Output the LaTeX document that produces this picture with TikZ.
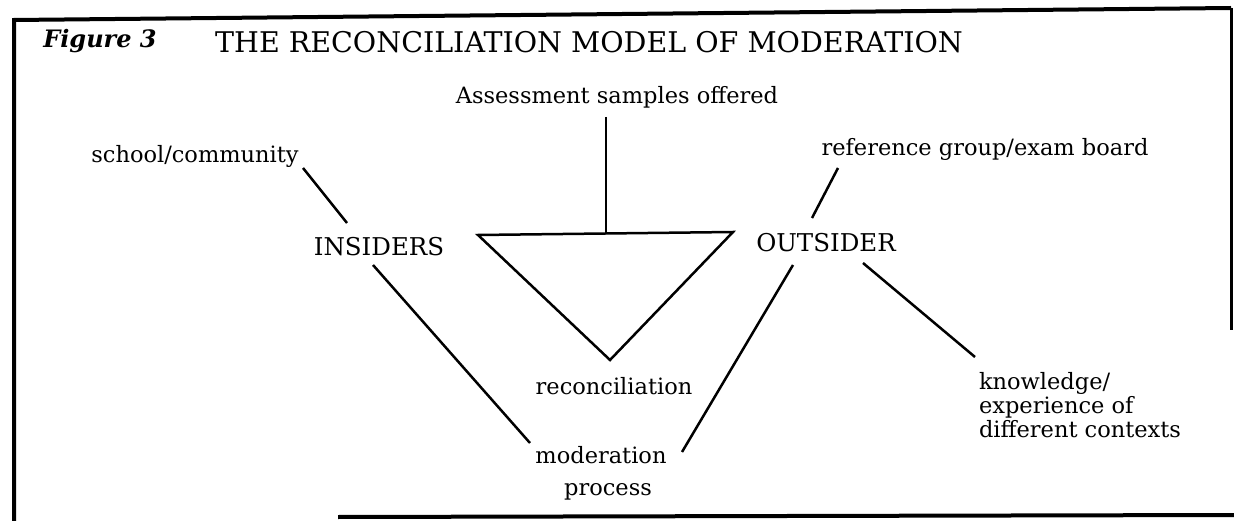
\documentclass[tikz,border=0pt]{standalone}
\usepackage{fontspec}
\setmainfont{DejaVu Serif}
\usetikzlibrary{calc}
\begin{document}
\begin{tikzpicture}[x=1pt,y=-1pt,
  lbl/.style={inner sep=0pt, font=\fontsize{22.5}{24}\selectfont},
  caps/.style={lbl, font=\fontsize{24.5}{26}\selectfont},
  conn/.style={line width=2.5pt},
  frameline/.style={line width=4pt},
  tri/.style={line width=2.5pt, line join=miter}]
\useasboundingbox (0,0) rectangle (1234,521);

% frame
\coordinate (fbl) at (14,521);
\coordinate (ftl) at (14,20);
\coordinate (ftr) at (1231,8);
\coordinate (fbr) at (1231,330);
\coordinate (bl) at (338,517);
\coordinate (br) at (1234,515);
\draw[frameline] (fbl) -- (ftl) -- (ftr);
\draw[line width=3pt] (ftr) -- (fbr);
\draw[frameline] (bl) -- (br);

% texts
\node[lbl, font=\fontsize{24}{28}\selectfont\bfseries\itshape] (fig) at (100,41) {Figure 3};
\node[lbl, font=\fontsize{28.5}{32}\selectfont] (title) at (589,42) {THE RECONCILIATION MODEL OF MODERATION};
\node[lbl] (assess) at (617,97) {Assessment samples offered};
\node[lbl] (school) at (195,156) {school/community};
\node[lbl] (ref) at (985,149) {reference group/exam board};
\node[caps] (ins) at (379,247) {INSIDERS};
\node[caps] (out) at (826,243) {OUTSIDER};
\node[lbl] (recon) at (614,386) {reconciliation};
\node[lbl] (moder) at (601,455) {moderation};
\node[lbl] (proc) at (608,492) {process};
\node[lbl, align=left] (know) at (1080,405) {knowledge/\\experience of\\different contexts};

% triangle
\coordinate (ta) at (478,235);
\coordinate (tb) at (733,232);
\coordinate (tc) at (610,360);
\coordinate (ttop) at (606,233);
\draw[tri] (ta) -- (tb) -- (tc) -- cycle;

% connectors
\draw[line width=2pt] ($(assess)+(-11,20)$) -- (ttop);
\draw[conn] ($(school)+(108,12)$) -- ($(ins)+(-32,-24)$);
\draw[conn] ($(ins)+(-6,18)$) -- ($(moder)+(-71,-12)$);
\draw[conn] ($(ref)+(-147,19)$) -- ($(out)+(-14,-25)$);
\draw[conn] ($(out)+(-33,22)$) -- ($(moder)+(81,-3)$);
\draw[conn] ($(out)+(37,20)$) -- ($(know)+(-105,-48)$);
\end{tikzpicture}
\end{document}
